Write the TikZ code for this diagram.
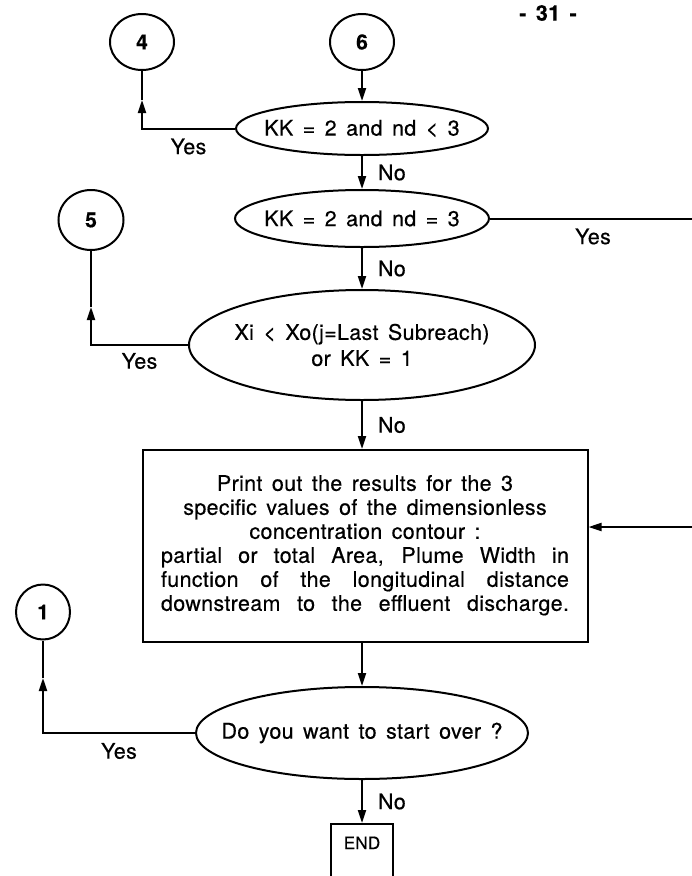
\documentclass[tikz,border=0pt]{standalone}
\usepackage{fontspec}
\setmainfont{TeX Gyre Heros}[LetterSpace=1.5,WordSpace=1.5,FakeBold=0.4]
\usetikzlibrary{arrows.meta,positioning,shapes.geometric}

% text that does not widen the ellipse around it
\newcommand{\dtext}[1]{\makebox[0pt]{#1}}
% a justified line of the print box
\newcommand{\fline}[1]{\makebox[408pt][s]{#1}}

\begin{document}
\begin{tikzpicture}[
    x=1pt, y=-1pt,
    line width=2pt,
    font=\fontsize{21.5}{24}\selectfont,
    flow/.style={-{Triangle[length=13pt,width=8pt]}},
    conn/.style={draw, ellipse, inner sep=0pt, minimum width=64pt, minimum height=56pt, font=\fontsize{21}{24}\selectfont\bfseries},
    decision/.style={draw, ellipse, inner sep=0pt, align=center},
    procbox/.style={draw, rectangle, minimum width=445pt, minimum height=192pt, inner sep=0pt},
    endbox/.style={draw, rectangle, minimum width=62pt, inner sep=5pt, text height=20pt, text depth=40pt, font=\fontsize{17}{20}\selectfont},
    lbl/.style={inner sep=2pt}
]
\useasboundingbox (0,0) rectangle (692,876);

% page number
\node (page) at (548,13) {\bfseries - 31 -};

% connectors
\node[conn] (c6) at (362,42) {6};
\node[conn] (c4) at (142,42) {4};
\node[conn, minimum width=65pt, minimum height=60pt] (c5) at (91,220) {5};
\node[conn, minimum width=54pt, minimum height=55pt] (c1) at (43,612) {1};

% main column
\node[decision, minimum width=252pt, minimum height=53pt, below=30pt of c6] (d1) {\dtext{KK = 2 and nd < 3}};
\node[decision, minimum width=254pt, minimum height=57pt, below=33pt of d1] (d2) {\dtext{KK = 2 and nd = 3}};
\node[decision, minimum width=346pt, minimum height=110pt, below=41pt of d2] (d3)
    {\dtext{Xi < Xo(j=Last Subreach)}\\[2pt]\dtext{or KK = 1}};
\node[procbox, below=48pt of d3, xshift=3pt] (pbox) {\raisebox{9pt}{\begin{tabular}{@{}c@{}}
    Print out the results for the 3\\
    specific values of the dimensionless\\
    concentration contour :\\
    \fline{partial or total Area, Plume Width in}\\
    \fline{function of the longitudinal distance}\\
    \fline{downstream to the effluent discharge.}
  \end{tabular}}};
\node[decision, minimum width=332pt, minimum height=92pt, below=43pt of pbox, xshift=-3pt] (d4) {\dtext{Do you want to start over ?}};
\node[endbox, below=43pt of d4] (end) {END};

% arrow heads on the return lines and the off-page corner
\coordinate (t4) at (142,100);
\coordinate (t5) at (91,307);
\coordinate (t1) at (43,678);
\coordinate (redge) at (696,0);

% flow
\draw[flow] (c6) -- (d1);
\draw[flow] (d1) -- node[lbl, right=13pt] {No} (d2);
\draw[flow] (d2) -- node[lbl, right=13pt] {No} (d3);
\draw[flow] (d3.south) -- node[lbl, right=13pt] {No} (d3.south |- pbox.north);
\draw[flow] (pbox.south -| d4.north) -- (d4.north);
\draw[flow] (d4) -- node[lbl, right=13pt] {No} (end);

% yes branches
\draw[flow] (d1.west) -| node[lbl, below=7pt, pos=0.25] {Yes} (t4);
\draw (t4) -- (c4);
\draw[flow] (d3.west) -| node[lbl, below=5pt, pos=0.25] {Yes} (t5);
\draw (t5) -- (c5);
\draw[flow] (d4.west) -| node[lbl, below=7pt, pos=0.25] {Yes} (t1);
\draw (t1) -- (c1);
\draw[flow] (d2.east) -- node[lbl, below=7pt] {Yes} (d2.east -| redge) |- ([yshift=19pt]pbox.east);

\end{tikzpicture}
\end{document}
